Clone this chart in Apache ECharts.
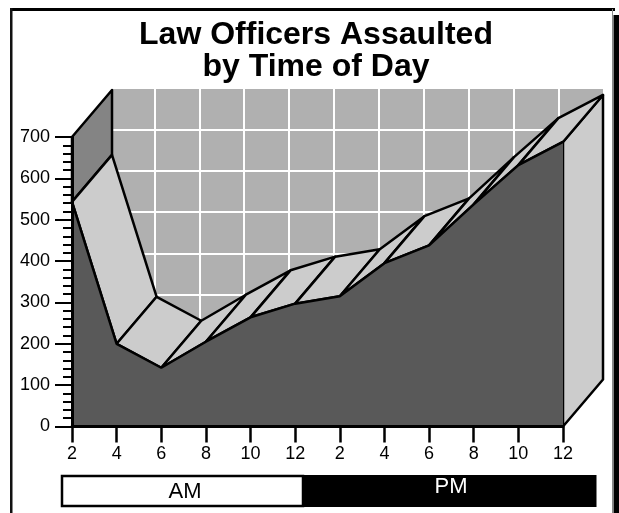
<!DOCTYPE html>
<html>
<head>
<meta charset="utf-8">
<title>Law Officers Assaulted by Time of Day</title>
<script src="https://cdn.jsdelivr.net/npm/echarts@6/dist/echarts.min.js"></script>
<style>
    html, body { margin: 0; padding: 0; background: #fff; }
    #chart { width: 619px; height: 513px; }
</style>
</head>
<body>
<div id="chart"></div>
<script>
var hours = ['2', '4', '6', '8', '10', '12', '2', '4', '6', '8', '10', '12'];
var assaults = [543, 200, 142, 205, 264, 297, 315, 395, 438, 537, 632, 688];
var valueTicks = [0, 700, 100];
var periods = ['AM', 'PM'];

var font = '"Liberation Sans", Arial, Helvetica, sans-serif';
// depth of the extruded area, in pixels
var depthX = 40;
var depthY = -47;

function pushBack(p) {
    return [p[0] + depthX, p[1] + depthY];
}

function polygon(points, fill) {
    return {
        type: 'polygon',
        shape: { points: points },
        style: { fill: fill, stroke: '#000', lineWidth: 2.5, lineJoin: 'round' }
    };
}

// top surface, one panel per pair of neighbouring points
function renderPanel(params, api) {
    var i = api.value(0);
    var a = api.coord([i, assaults[i]]);
    var b = api.coord([i + 1, assaults[i + 1]]);
    return polygon([a, pushBack(a), pushBack(b), b], '#cccccc');
}

// side walls of the block
function renderWall(params, api) {
    var i = api.value(0);
    var a = api.coord([i, api.value(1)]);
    var b = api.coord([i, api.value(2)]);
    return polygon([a, pushBack(a), pushBack(b), b], api.value(3));
}

var myChart = echarts.init(document.getElementById('chart'), null, { renderer: 'canvas' });

var option = {
    animation: false,
    backgroundColor: '#fff',
    title: {
        text: 'Law Officers Assaulted\nby Time of Day',
        left: 311,
        top: 14,
        textAlign: 'center',
        textStyle: {
            fontFamily: font,
            fontSize: 32,
            fontWeight: 'bold',
            color: '#000',
            lineHeight: 32
        }
    },
    grid: [
        { left: 72, top: 137, width: 491, height: 289.5 },
        { left: 109.5, top: 88, width: 494, height: 289.5, show: true, backgroundColor: '#b0b0b0', borderWidth: 0 }
    ],
    xAxis: [
        {
            type: 'category',
            gridIndex: 0,
            data: hours,
            boundaryGap: false,
            z: 5,
            axisLine: { lineStyle: { color: '#000', width: 3 } },
            axisTick: { alignWithLabel: true, length: 16, lineStyle: { color: '#000', width: 2.5 } },
            axisLabel: { interval: 0, margin: 19, color: '#000', fontFamily: font, fontSize: 18 },
            splitLine: { show: false }
        },
        {
            type: 'category',
            gridIndex: 1,
            data: hours,
            boundaryGap: false,
            axisLine: { show: false },
            axisTick: { show: false },
            axisLabel: { show: false },
            splitLine: { show: true, interval: 0, lineStyle: { color: '#fff', width: 2 } }
        }
    ],
    yAxis: [
        {
            type: 'value',
            gridIndex: 0,
            min: valueTicks[0],
            max: valueTicks[1],
            interval: valueTicks[2],
            z: 5,
            axisLine: { show: true, lineStyle: { color: '#000', width: 3 } },
            axisTick: { show: true, length: 17, lineStyle: { color: '#000', width: 2 } },
            minorTick: { show: true, splitNumber: 5, length: 9, lineStyle: { color: '#000', width: 2 } },
            axisLabel: { margin: 22, color: '#000', fontFamily: font, fontSize: 18 },
            splitLine: { show: false }
        },
        {
            type: 'value',
            gridIndex: 1,
            min: valueTicks[0],
            max: valueTicks[1],
            interval: valueTicks[2],
            axisLine: { show: false },
            axisTick: { show: false },
            axisLabel: { show: false },
            splitLine: { show: true, lineStyle: { color: '#fff', width: 2 } }
        }
    ],
    series: [
        {
            name: 'Walls',
            type: 'custom',
            xAxisIndex: 0,
            yAxisIndex: 0,
            z: 2,
            clip: false,
            renderItem: renderWall,
            data: [
                [0, valueTicks[1], assaults[0], '#848484'],
                [hours.length - 1, assaults[hours.length - 1], valueTicks[0], '#cccccc']
            ]
        },
        {
            name: 'Surface',
            type: 'custom',
            xAxisIndex: 0,
            yAxisIndex: 0,
            z: 3,
            clip: false,
            renderItem: renderPanel,
            data: assaults.slice(0, -1).map(function (v, i) {
                return [i, v];
            })
        },
        {
            name: 'Assaults',
            type: 'line',
            xAxisIndex: 0,
            yAxisIndex: 0,
            z: 4,
            symbol: 'none',
            data: assaults,
            lineStyle: { color: '#000', width: 2.5 },
            areaStyle: { color: '#595959', opacity: 1 }
        }
    ],
    graphic: [
        // outer frame
        { type: 'rect', z: 1, shape: { x: 10, y: 8, width: 605, height: 3 }, style: { fill: '#000' } },
        { type: 'rect', z: 1, shape: { x: 10, y: 8, width: 2.5, height: 505 }, style: { fill: '#111' } },
        { type: 'rect', z: 1, shape: { x: 612, y: 9, width: 1, height: 504 }, style: { fill: '#888' } },
        { type: 'rect', z: 1, shape: { x: 613.5, y: 15, width: 5.5, height: 498 }, style: { fill: '#000' } },
        // AM / PM band
        {
            type: 'rect',
            z: 1,
            shape: { x: 62, y: 476, width: 241, height: 30 },
            style: { fill: '#fff', stroke: '#000', lineWidth: 2.5 }
        },
        {
            type: 'rect',
            z: 1,
            shape: { x: 302, y: 475, width: 294.5, height: 32 },
            style: { fill: '#000' }
        },
        {
            type: 'text',
            z: 2,
            style: {
                x: 185, y: 492, text: periods[0], fill: '#000', font: '22px ' + font,
                align: 'center', verticalAlign: 'middle'
            }
        },
        {
            type: 'text',
            z: 2,
            style: {
                x: 451, y: 487, text: periods[1], fill: '#fff', font: '22px ' + font,
                align: 'center', verticalAlign: 'middle'
            }
        }
    ]
};

myChart.setOption(option);
</script>
</body>
</html>
